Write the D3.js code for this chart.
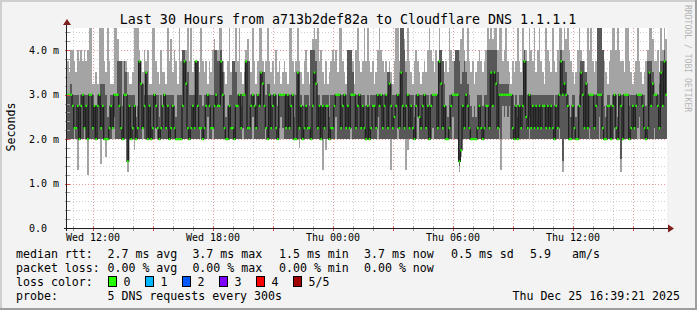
<!DOCTYPE html>
<html>
<head>
<meta charset="utf-8">
<script src="https://cdn.jsdelivr.net/npm/d3@7/dist/d3.min.js"></script>
<style>
  body { margin: 0; background: #f3f3f3; }
  svg text { font-family: "DejaVu Sans Mono", monospace; fill: #000; }
</style>
</head>
<body>
<svg id="chart" width="697" height="310"></svg>
<script>
// 360 steps of 300s, Wed 24 Dec 10:42 UTC .. Thu 25 Dec 16:42
const startTime = Date.UTC(2025, 11, 24, 10, 42, 0);
const stepMs = 300 * 1000;
const spanMs = 30 * 3600 * 1000;

// median rtt per step (ms)
const median = [
  3,3,3,2.75,2.25,2.25,2.75,2,2.75,3, 2.25,2.75,2,3,3,2.25,2.75,2,2.75,3, 2.25,2.75,2,2,2,2.25,2.75,2.25,3,3,
  3,2.75,2.25,2,3,3,1.5,2.75,2,2.25, 2.75,2,2.25,3.75,3.25,2.25,2.75,3.5,2,2.75, 2,2.25,3,2.75,2.25,2,2.25,2.75,3,2.25,
  2.75,2,2.25,2.75,2.25,2,2,2,2,2.75, 3.75,3.25,2.25,2,2.25,2.75,2.25,3.75,2.75,2.25, 2.25,2,2.25,2.75,3,2.75,2.25,2.25,2.75,3,
  2.75,2.75,3.75,3,2.25,2,2,2.75,2.25,2.25, 2,2.75,2.75,3,2.25,3,3,3.75,2.25,2.25, 2.75,3,2.75,2.25,3,2.75,3.5,3.25,2.75,2.25,
  2,3,2.25,2.75,3,2.25,2,3,3,3, 3,2.25,3,2.25,2.75,3,2,2,3.5,2.25, 2.75,2,2.25,2.75,2.25,2.25,2,2.75,3.5,3.25,
  2.25,2.75,2,2.75,2.25,2.75,2.75,2,2.25,2.25, 2.75,3,3,3,2.25,2.75,3,2.25,2.75,2.25, 3,3,3,2.25,2.75,3,2.25,2.75,2.25,2,
  2.75,2,2.25,2.75,2.75,2.25,3,2.75,3,2.25, 2.75,3,2.25,3.25,2.75,2.25,2.5,2.75,3,2.25, 3.5,2.75,2.25,2.75,3,2.25,2.75,2.25,2,2.75,
  3,2.5,2.25,2.75,3,2.25,2.75,2,2.75,3, 3,3,2.25,3.75,3.25,2.25,2.75,2,2,2.25, 2.75,3,3,3,3,1.5,1.75,2.75,2.25,3,
  2.75,2.25,2,2,2,2,2.25,2.75,2.25,2, 2.25,2.75,2.75,2.25,3.5,2.75,3.5,3.25,2.25,3, 3,3,3,3,3,3,3,2.25,2,2.75,
  2,2.75,2.25,2.75,3.75,2.5,2.25,3,2.25,2.75, 2.25,2.75,2.25,2.75,2.25,2.75,2.75,2.25,2.75,2.25, 2.75,2.25,2,2.75,2.25,3,3.75,3,3.25,3,
  2.75,2,2,2.75,2.25,2,2,2.75,3.5,3, 2.25,3.25,2.25,3,3,3,2.25,2.75,3,3, 3,2.25,2,2,2.75,2.75,2,2.75,3,2.25,
  2,3,2.75,2,3,3,3,2,2.25,2.75, 2.25,2.75,3,3,3,2.75,2.25,2,2.25,3.5, 2.75,3.25,3,3,2.75,2.25,3.5,2.75,3.75,3
];

// slowest of the 5 requests (values above 4.5 run off the top)
const pingMax = [
  3.75,3.5,4,4,3.75,3.5,4,3.75,4,3.75, 4,3.75,4,4.6,4.6,3.25,3.25,3.5,3.25,4.6, 4.6,4.6,3.75,3.5,4.6,3.75,3.25,3.25,4.6,4.6,
  4.25,3.75,3.5,3.75,3.5,3.75,3.5,3.25,3.25,3.5, 4.6,4.6,4.6,4,3.75,3.5,4,3.75,4,3.25, 3.25,4.6,4.6,3.75,3.5,3.25,4,3.5,3.5,3.25,
  4.6,3.75,4.25,3.5,4,3.75,3.25,4.6,3.75,4, 4,4,4.6,3.75,4.6,3.5,3.75,3.75,3.75,3.5, 4.6,3.75,3.5,3.75,3.25,3.75,3.5,4,4.25,4,
  4,4.6,4.6,3.75,3.5,3.25,3.75,4.6,3.5,3.75, 3.75,4.6,3.75,4.6,3.5,3.25,3.5,4,4.25,3.75, 3.5,4.6,3.75,3.25,3.75,4.6,4.6,3.75,3.5,3.75,
  4.6,3.75,3.5,3.75,3.25,4,3.5,3.75,3.25,3.5, 3.75,3.5,3.25,4.6,4.6,3.75,3.5,3.75,4.6,3.75, 3.5,3.25,3.75,4,3.5,3.25,4,4.25,4.6,4.25,
  4.6,3.75,4,3.5,3.25,3.75,3.25,3.5,3.75,4, 3.75,4,3.5,4.6,4.6,3.75,3.5,3.25,3.5,4, 3.75,3.75,3.25,4,4.6,3.75,3.5,3.75,4.6,3.75,
  4.6,3.75,3.5,3.75,3.25,3.5,4,4.6,4,3.75, 3.5,3.75,3.5,3.75,3.5,3.25,3.75,4.6,4.6,3.75, 4.6,4.6,4.25,3.75,4.6,3.75,3.5,3.25,3.75,4,
  3.75,3.5,3.25,3.5,3.75,3.5,4,4.6,4,3.75, 3.5,4,3.75,4.6,4,3.75,3.5,3.75,3.5,4.6, 4,3.75,3.75,4,4,4,4.25,4.6,4,3.75,
  4.6,3.75,3.5,3.75,3.25,3.5,3.75,4,3.75,3.5, 3.75,4,4.6,4.25,4.6,4.25,4.6,4.6,4,4.6, 4.6,3.75,4,4.6,3.75,3.5,3.25,3.75,3.5,3.75,
  4.6,3.75,3.5,4.6,4,4,3.75,4.6,4,3.75, 4.6,3.5,4,4.6,3.75,3.5,3.25,4.6,4,3.75, 3.5,4.6,3.75,3.5,4,4.6,4.6,4,4.6,4.25,
  4.6,4,3.75,3.5,3.25,3.5,4,4.6,4,3.75, 3.75,3.5,4.6,4,4.6,3.75,3.5,3.75,4.6,4.6, 4.6,4,3.75,3.5,3.25,3.75,4,4.6,4.6,4,
  4.6,4,3.75,3.75,3.5,4.6,4.6,3.75,3.5,3.25, 3.5,3.75,4.6,3.75,3.5,3.25,3.5,3.75,4,4.6, 4.6,4.25,3.75,3.75,4,3.5,4.6,4,4.6,4.25
];

// 4th of the 5 sorted requests
const ping4 = [
  3,3,3.25,3,3,3,3,2.75,3,3, 3,3,3,3,3,3,2.75,2.75,3,3, 3.25,3.25,3.25,3,2.5,2.75,3,3,3,3,
  3.75,3.75,3.75,2.75,3.75,3.5,3,3,3,3, 3,2.5,2.75,3.75,3.25,3.25,3,3.5,3,3, 3,3,3,3,3,2.5,3,2.75,3,3,
  3,3,3,3,2.75,2.5,3,3,3,4, 4,3.75,3.5,3,3,3,3,3.75,3.75,3, 3,2.75,3,3,3,3,3,3,4,4,
  3.75,3.75,4,3.5,3,2.5,2.75,3,3,3.75, 3.75,3.5,3,3,2.75,3,3,3.75,3.75,3.75, 3,3,3,2.75,3,3,3.5,3.5,3.5,3,
  3.25,3.25,3,3,3,3,2.75,3,3,3, 3,3,3,3,3,3,2.5,3,3.5,3.5, 3,2.75,3,3,3,2.75,4,4,4,3.75,
  3,3,2.75,3,3,3,3,2.5,3,3, 3,3,3,3,3,3,3,3,4,4, 4,3.5,3,3,3,3,3,3,3,2.75,
  3,2.75,3,3,3,3,3,3,3,3, 3,3,3.5,3.5,3.25,3,3,3,3,3, 4.6,4.6,4,3.5,3,3,3,3,2.5,3,
  3,3,3,3,3,3,3,2.75,3,3, 3,3,3,4,4,3.75,3.25,2.75,2.5,3, 3,3,3.75,4,4,3.75,3.25,3.5,3.75,3.5,
  3.25,3,2.75,2.5,2.75,2.5,3,3,3,2.75, 3,3,4,4,4,4,4,4,3.5,3.25, 3.25,3.25,3.25,3.25,3.25,3,3,3,2.75,3,
  2.5,3,3,3,4,3.75,3,3,3,3, 3,3,3,3,3,3,3,3,3,3, 3,3,2.75,3,3,3,4,3.75,3.75,3.5,
  3,2.75,2.5,3,3,2.5,2.75,3,3.75,3.75, 3.5,3.5,3,3,3,3,3,3,4.6,4.6, 4.6,4,2.75,2.5,3,3,2.75,3,3,3,
  2.5,3,3,3,3,3,3,2.75,3,3, 3,3,3,3,3,3,3,2.75,3.75,3.75, 3.75,3.5,3,3,3,3.25,3.75,3.75,4,3.75
];

// 2nd of the 5 sorted requests
const ping2 = [
  2,2,2,2,2.25,2,2,2,2,2, 2.25,2,2,2,2,2,2,2,2,2, 2,2,2,2,2,2,2,2.25,2.5,2,
  2,2,2,2,2,2,1.5,2,2,2, 2,2,2,2,2,2.25,2,2,2,2, 2,2,2,2.25,2,2,2,2,2,2,
  2,2,2,2,2,2,2,2,2,2, 2,2,2,2,2,2,2,2,2,2, 2.25,2,2,2,2.5,2,2,2.25,2,2,
  2,2,2,2,2,2,2,2,2,2, 2,2,2,2,2,2.25,2,2,2,2, 2,2.5,2,2,2,2,2,2,2,2.25,
  2,2,2,2,2,2,2,2.25,2.5,2.25, 2,2,2,2,2,2,2,2,2,2, 2,2,2,2,2,2,2,2,2,2,
  2,2,2,2,2,2,2,2,2,2, 2,2.5,2,2,2,2,2,2,2,2, 2.25,2,2,2,2,2,2,2,2,2,
  2,2,2,2,2,2,2.5,2,2,2, 2,2,2,2,2,2,2,2,2.25,2, 2,2,2,2,2,2,2,2,2,2,
  2.5,2,2,2,2,2,2,2,2,2.25, 2,2,2,2,2,2,2,2,2,2, 2,2.5,2,2,2,1.4,1.75,2,2,2,
  2,2,2,2,2,2,2,2,2,2, 2,2,2,2,2,2,2,2,2,2.25, 2,2.75,2.5,2.75,2.5,2.75,2,2,2,2,
  2,2,2,2,2,2,2,2.5,2,2, 2,2,2,2,2,2,2,2,2,2, 2,2,2,2,2,2.25,2,1.5,2,2,
  2,2,2,2,2,2,2,2,2,2, 2,2,2,2.25,2,2,2,2,2,2.5, 2,2,2,2,2,2,2,2,2.25,2,
  2,2,1.55,2,2,2,2,2,2,2, 2,2,2.25,2.5,2,2,2,2,2,2, 2,2,2.25,2,2,2,2,2,2,2
];

// fastest of the 5 requests
const pingMin = [
  2,2,2,2,2,2,1.3,2,2,2, 2,2,1.2,2,2,2,2,2,2,2, 1.45,2,2,1.6,2,2,2,2,2,2,
  2,2,2,2,2,2,1.25,2,2,2, 1.75,2,2,2,2,2,2,2,2,2, 2,2,2,2,2,2,2,2,2,2,
  2,2,2,2,2,2,2,2,2,2, 2,2,2,2,2,2,2,2,2,2, 2,2,2,2,2,2,2,2,2,2,
  2,2,2,2,2,2,2,2,2,2, 2,2,2,2,2,2,2,2,2,2, 2,2,2,2,2,2,2,2,2,2,
  2,2,2,2,2,2,2,2,2,2, 2,2,2,2,2,2,2,2,2,1.8, 2,2,2,2,2,2,2,2,2,2,
  2,2,2,1.3,2,1.75,2,2,2,2, 2,2,2,2,2,2,2,2,2,2, 2,2,2,2,2,2,2,2,2,2,
  2,2,2,2,2,2,2,2,2,2, 2,2,2,2,1.3,2,2,2,2,2, 2,2,2,1.3,1.75,2,2,2,2,2,
  2,2,2,2,2,2,2,2,2,2, 2,2,2,2,2,2,2,2,2,2, 2,2,2,2,2,1.25,1.6,2,2,2,
  2,2,2,2,2,2,2,2,2,2, 2,2,2,2,2,2,2,2,2,2, 1.3,2,2,2,2,2,2,2,2,2,
  2,2,2,2,2,2,2,2,2,2, 2,2,2,2,2,2,2,2,2,2, 2,2,2,2,2,2,2,1.25,2,2,
  2,2,2,2,2,2,2,2,2,2, 2,2,2,2,2,2,2,2,2,2, 2,2,2,2,2,2,2,2,2,2,
  2,2,1.25,2,2,2,2,2,2,2, 2,2,2,2,2,2,2,2,2,2, 2,2,2,2,2,2,2,2,2,2
];

const yLabelValues = [0, 1, 2, 3, 4];
const rttStats = ["2.7 ms avg", "3.7 ms max", "1.5 ms min", "3.7 ms now", "0.5 ms sd", "5.9", "am/s"];
const lossStats = ["0.00 % avg", "0.00 % max", "0.00 % min", "0.00 % now"];
const lossLabels = ["0", "1", "2", "3", "4", "5/5"];
const lossColors = ["#26ff00", "#00b8ff", "#0059ff", "#7e00ff", "#ff0000", "#a10000"];
const titleText = "Last 30 Hours from a713b2def82a to Cloudflare DNS 1.1.1.1";
const probeText = "5 DNS requests every 300s";
const stampText = "Thu Dec 25 16:39:21 2025";

const W = 697, H = 310;
const plot = { left: 67, right: 667, top: 28, bottom: 228 };

const svg = d3.select("#chart");

const x = d3.scaleUtc()
  .domain([startTime, startTime + spanMs])
  .range([plot.left, plot.right]);

const y = d3.scaleLinear()
  .domain([0, 4.5])
  .range([plot.bottom, plot.top]);

const px = v => Math.round(v) + 0.5;

// background + 3d frame like rrdtool
svg.append("rect").attr("width", W).attr("height", H).attr("fill", "#f3f3f3");
svg.append("rect").attr("x", 0).attr("y", 0).attr("width", W).attr("height", 2).attr("fill", "#cfcfcf");
svg.append("rect").attr("x", 0).attr("y", 0).attr("width", 2).attr("height", H).attr("fill", "#cfcfcf");
svg.append("rect").attr("x", 0).attr("y", H - 2).attr("width", W).attr("height", 2).attr("fill", "#9e9e9e");
svg.append("rect").attr("x", W - 2).attr("y", 0).attr("width", 2).attr("height", H).attr("fill", "#9e9e9e");

svg.append("rect")
  .attr("x", plot.left).attr("y", plot.top)
  .attr("width", plot.right - plot.left).attr("height", plot.bottom - plot.top)
  .attr("fill", "#ffffff");

svg.append("defs").append("clipPath").attr("id", "plotClip")
  .append("rect")
  .attr("x", plot.left).attr("y", plot.top)
  .attr("width", plot.right - plot.left).attr("height", plot.bottom - plot.top);

// grid
const grid = svg.append("g");

const hourTicks = d3.utcHour.every(1).range(new Date(startTime), new Date(startTime + spanMs));
const majorHours = hourTicks.filter(d => d.getUTCHours() % 3 === 0);
const labelHours = hourTicks.filter(d => d.getUTCHours() % 6 === 0);

const minorVals = d3.range(1, 23).map(i => i * 0.2);
const majorVals = yLabelValues.filter(v => v > 0);

grid.selectAll("line.vminor").data(hourTicks).enter().append("line")
  .attr("x1", d => px(x(d))).attr("x2", d => px(x(d)))
  .attr("y1", plot.top).attr("y2", plot.bottom)
  .attr("stroke", "#cfcfcf").attr("stroke-dasharray", "1,2");

grid.selectAll("line.hminor").data(minorVals).enter().append("line")
  .attr("x1", plot.left).attr("x2", plot.right)
  .attr("y1", d => px(y(d))).attr("y2", d => px(y(d)))
  .attr("stroke", "#cfcfcf").attr("stroke-dasharray", "1,2");

grid.selectAll("line.vmajor").data(majorHours).enter().append("line")
  .attr("x1", d => px(x(d))).attr("x2", d => px(x(d)))
  .attr("y1", plot.top).attr("y2", plot.bottom)
  .attr("stroke", "#eb9a9a").attr("stroke-dasharray", "1,2");

grid.selectAll("line.hmajor").data(majorVals).enter().append("line")
  .attr("x1", plot.left).attr("x2", plot.right)
  .attr("y1", d => px(y(d))).attr("y2", d => px(y(d)))
  .attr("stroke", "#eb9a9a").attr("stroke-dasharray", "1,2");

// smoke + median
const rows = median.map((m, i) => ({
  t0: startTime + i * stepMs,
  t1: startTime + (i + 1) * stepMs,
  med: m,
  top: Math.max(pingMax[i], ping4[i], m),
  hi: Math.max(ping4[i], m),
  lo: Math.min(ping2[i], m),
  bottom: Math.min(pingMin[i], ping2[i], m)
}));

const data = svg.append("g").attr("clip-path", "url(#plotClip)");

data.selectAll("rect.outer").data(rows).enter().append("rect")
  .attr("x", d => x(d.t0))
  .attr("width", d => x(d.t1) - x(d.t0))
  .attr("y", d => y(d.top))
  .attr("height", d => y(d.bottom) - y(d.top))
  .attr("fill", "#a4a4a4")
  .attr("shape-rendering", "crispEdges");

data.selectAll("rect.inner").data(rows).enter().append("rect")
  .attr("x", d => x(d.t0))
  .attr("width", d => x(d.t1) - x(d.t0))
  .attr("y", d => y(d.hi))
  .attr("height", d => y(d.lo) - y(d.hi))
  .attr("fill", "#585858")
  .attr("shape-rendering", "crispEdges");

const medLine = d3.line()
  .x(d => x(d[0]))
  .y(d => y(d[1]))
  .curve(d3.curveStepAfter);

const medPoints = rows.map(d => [d.t0, d.med]);
medPoints.push([rows[rows.length - 1].t1, rows[rows.length - 1].med]);

data.append("path")
  .attr("d", medLine(medPoints))
  .attr("fill", "none")
  .attr("stroke", "#202020")
  .attr("stroke-width", 1.3);

data.selectAll("rect.med").data(rows).enter().append("rect")
  .attr("x", d => x(d.t0))
  .attr("width", d => x(d.t1) - x(d.t0))
  .attr("y", d => y(d.med) - 1)
  .attr("height", 2.2)
  .attr("fill", lossColors[0]);

// axes
const axis = svg.append("g");

axis.selectAll("line.xtick").data(hourTicks).enter().append("line")
  .attr("x1", d => px(x(d))).attr("x2", d => px(x(d)))
  .attr("y1", plot.bottom - 2).attr("y2", plot.bottom + 3)
  .attr("stroke", d => d.getUTCHours() % 3 === 0 ? "#de5050" : "#9a9a9a");

axis.selectAll("line.ytick").data(minorVals).enter().append("line")
  .attr("x1", plot.left - 2).attr("x2", plot.left + 3)
  .attr("y1", d => px(y(d))).attr("y2", d => px(y(d)))
  .attr("stroke", d => Math.abs(d - Math.round(d)) < 1e-6 ? "#de5050" : "#9a9a9a");

axis.append("line")
  .attr("x1", plot.left - 3).attr("x2", plot.right + 3)
  .attr("y1", px(plot.bottom)).attr("y2", px(plot.bottom))
  .attr("stroke", "#1f1f1f");

axis.append("line")
  .attr("x1", px(plot.left) - 1).attr("x2", px(plot.left) - 1)
  .attr("y1", plot.bottom + 3).attr("y2", plot.top - 4)
  .attr("stroke", "#1f1f1f");

axis.append("path")
  .attr("d", `M${plot.right + 1},${plot.bottom - 3.5} L${plot.right + 7},${plot.bottom + 0.5} L${plot.right + 1},${plot.bottom + 4.5} Z`)
  .attr("fill", "#7f1f1f");

axis.append("path")
  .attr("d", `M${plot.left - 4},${plot.top - 3} L${plot.left},${plot.top - 9} L${plot.left + 4},${plot.top - 3} Z`)
  .attr("fill", "#7f1f1f");

// axis labels
svg.selectAll("text.xlab").data(labelHours).enter().append("text")
  .attr("x", d => x(d))
  .attr("y", 241)
  .attr("text-anchor", "middle")
  .attr("font-size", "10px")
  .text(d => d3.utcFormat("%a %H:%M")(d));

svg.selectAll("text.ylab").data(yLabelValues).enter().append("text")
  .attr("x", 29)
  .attr("y", d => y(d) + 3.5)
  .attr("font-size", "10px")
  .text(d => d === 0 ? "0.0" : d3.format(".1f")(d) + " m");

svg.append("text")
  .attr("transform", "translate(15,127) rotate(-90)")
  .attr("text-anchor", "middle")
  .attr("font-size", "11.6px")
  .text("Seconds");

svg.append("text")
  .attr("x", 348).attr("y", 24)
  .attr("text-anchor", "middle")
  .attr("font-size", "13.3px")
  .text(titleText);

svg.append("text")
  .attr("transform", "translate(685,5) rotate(90)")
  .attr("font-size", "8.1px")
  .style("fill", "#b5b5b5")
  .text("RRDTOOL / TOBI OETIKER");

// legend
const legend = svg.append("g").attr("font-size", "11.6px");
const statX = [107.5, 192.4, 279, 364, 451, 530, 572];
const rowY = [258, 272, 286, 300];

legend.append("text").attr("x", 16).attr("y", rowY[0]).text("median rtt:");
legend.selectAll("text.rtt").data(rttStats).enter().append("text")
  .attr("x", (d, i) => statX[i]).attr("y", rowY[0]).text(d => d);

legend.append("text").attr("x", 16).attr("y", rowY[1]).text("packet loss:");
legend.selectAll("text.loss").data(lossStats).enter().append("text")
  .attr("x", (d, i) => statX[i]).attr("y", rowY[1]).text(d => d);

legend.append("text").attr("x", 16).attr("y", rowY[2]).text("loss color:");
legend.selectAll("rect.box").data(lossColors).enter().append("rect")
  .attr("x", (d, i) => 108.5 + i * 37)
  .attr("y", rowY[2] - 9.5)
  .attr("width", 8).attr("height", 10)
  .attr("fill", d => d)
  .attr("stroke", "#000");
legend.selectAll("text.boxlab").data(lossLabels).enter().append("text")
  .attr("x", (d, i) => 123.5 + i * 37).attr("y", rowY[2]).text(d => d);

legend.append("text").attr("x", 16).attr("y", rowY[3]).text("probe:");
legend.append("text").attr("x", 107.5).attr("y", rowY[3]).text(probeText);
legend.append("text").attr("x", 680).attr("y", rowY[3]).attr("text-anchor", "end").text(stampText);
</script>
</body>
</html>
